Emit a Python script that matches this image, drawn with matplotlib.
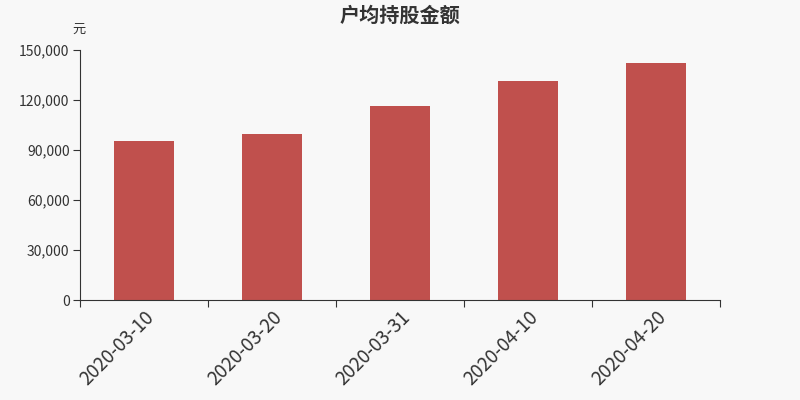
import matplotlib.pyplot as plt
from matplotlib.ticker import FuncFormatter

plt.rcParams['font.family'] = ['Noto Sans CJK SC', 'DejaVu Sans']

dates = ['2020-03-10', '2020-03-20', '2020-03-31', '2020-04-10', '2020-04-20']
amount = [95200, 99600, 116400, 131400, 142200]

bg = '#f8f8f8'
bar_col = '#c0504d'
txt = '#333333'

fig = plt.figure(figsize=(8, 4), dpi=100, facecolor=bg)
ax = fig.add_axes([0.1, 0.25, 0.8, 0.625], facecolor=bg)

x = list(range(len(dates)))
ax.bar(x, amount, width=0.47, color=bar_col, zorder=2)

ax.set_xlim(-0.5, len(dates) - 0.5)
ax.set_ylim(0, 150000)
ax.set_yticks(range(0, 150001, 30000))
ax.yaxis.set_major_formatter(FuncFormatter(lambda v, p: f'{int(v):,}'))

# ticks between categories, labels under the bars
ax.set_xticks([i - 0.5 for i in range(len(dates) + 1)])
ax.set_xticklabels([])
ax.set_xticks(x, minor=True)
ax.set_xticklabels(dates, minor=True, rotation=45, ha='right',
                   rotation_mode='anchor', fontsize=13.5, color=txt)
ax.tick_params(axis='x', which='minor', length=0, pad=5)
ax.tick_params(axis='x', which='major', length=5, color=txt)
ax.tick_params(axis='y', length=5, pad=2.5, color=txt, labelsize=10, labelcolor=txt)

for s in ['top', 'right']:
    ax.spines[s].set_visible(False)
for s in ['left', 'bottom']:
    ax.spines[s].set_color(txt)

fig.text(0.5, 0.963, '户均持股金额', ha='center', va='center',
         fontsize=14.5, fontweight='bold', color=txt)
fig.text(0.099, 0.928, '元', ha='center', va='center', fontsize=9.5, color=txt)

fig.savefig('out.png', dpi=100, facecolor=bg)
